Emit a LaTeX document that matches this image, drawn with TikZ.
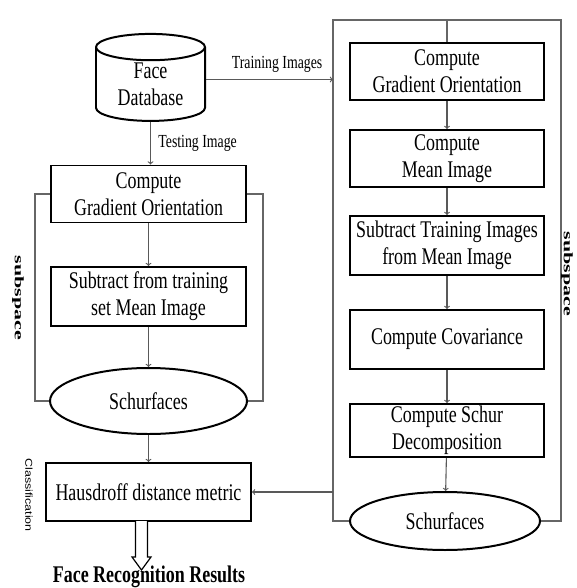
\documentclass[tikz,border=0pt]{standalone}
\usepackage{fontspec}
\setmainfont{Liberation Serif}[FakeStretch=0.75]
\newfontfamily\plainserif{Liberation Serif}
\newfontfamily\plainsans{Liberation Sans}
\usetikzlibrary{shapes.geometric, arrows, positioning}

\tikzset{
  stepbox/.style={draw, line width=2pt, align=center, inner sep=0pt,
    minimum width=195bp, minimum height=57bp, font=\fontsize{24}{27}\selectfont},
  ovalbox/.style={draw, ellipse, line width=2pt, inner sep=0pt,
    font=\fontsize{24}{27}\selectfont},
  conn/.style={draw=black!65, line width=1.1pt, ->, >=to},
  frameline/.style={draw=black!60, line width=1.3pt},
  lbl/.style={font=\fontsize{18.5}{18.5}\selectfont},
}

\begin{document}
\begin{tikzpicture}[x=1bp, y=-1bp]
    \useasboundingbox (0,0) rectangle (577,588);

    % database and testing branch
    \node[draw, cylinder, shape border rotate=90, aspect=0.4, line width=2pt,
          minimum width=109bp, minimum height=87bp, inner sep=0pt, align=center,
          font=\fontsize{24}{27}\selectfont] (db) at (150.5,84.5) {Face\\Database};

    \node[stepbox] (lgrad) at (148.5,194) {Compute\\Gradient Orientation};
    \node[stepbox, minimum height=59bp] (lsub) at (148.5,296.5) {Subtract from training\\set Mean Image};
    \node[ovalbox, minimum width=197bp, minimum height=66bp] (lschur) at (148.5,401) {Schurfaces};
    \node[stepbox, minimum width=205bp, minimum height=58bp] (haus) at (148.5,492) {Hausdroff distance metric};

    % training branch
    \node[stepbox, minimum width=194bp] (rgrad) at (447,71.5) {Compute\\Gradient Orientation};
    \node[stepbox, minimum width=194bp] (rmean) at (447,158.5) {Compute\\Mean Image};
    \node[stepbox, minimum width=194bp, minimum height=59bp] (rsub) at (447,245.5) {Subtract Training Images\\from Mean Image};
    \node[stepbox, minimum width=194bp, minimum height=59bp] (rcov) at (447,339.5) {Compute Covariance};
    \node[stepbox, minimum width=194bp, minimum height=53bp] (rschur) at (447,430.5) {Compute Schur\\Decomposition};
    \node[ovalbox, minimum width=190bp, minimum height=58bp] (rfaces) at (445,521) {Schurfaces};

    \coordinate (trainin) at (333,79.5);
    \coordinate (fromright) at (333,492);

    % subspace frames
    \draw[frameline] (lgrad.west) -- (35,194) -- (35,401) -- (lschur.west);
    \draw[frameline] (lgrad.east) -- (263,194) -- (263,401) -- (lschur.east);
    \draw[frameline] (rfaces.west) -| (333,20) -| (rgrad.north);
    \draw[frameline] (rfaces.east) -| (561,20) -- (447,20);

    % connectors
    \draw[conn] (db.east |- trainin) -- (trainin) node[lbl, above=3bp, pos=0.56] {Training Images};
    \draw[conn] (db.south) -- (db.south |- lgrad.north) node[lbl, right=4bp, midway] {Testing Image};
    \draw[conn] (lgrad) -- (lsub);
    \draw[conn] (lsub) -- (lschur);
    \draw[conn] (lschur) -- (haus);
    \draw[conn] (rgrad) -- (rmean);
    \draw[conn] (rmean) -- (rsub);
    \draw[conn] (rsub) -- (rcov);
    \draw[conn] (rcov) -- (rschur);
    \draw[conn] (rschur) -- (rfaces);
    \draw[conn] (fromright) -- (haus.east);

    % result arrow
    \draw[line width=1.2pt, fill=white] (135.5,521) -- (135.5,557) -- (132,557) -- (141.5,570)
        -- (151,557) -- (147.5,557) -- (147.5,521);
    \node[font=\fontsize{24}{24}\selectfont\bfseries] (result) at (149,577) {Face Recognition Results};

    % side labels
    \node[rotate=-90] (subl) at (18,298) {\plainserif\bfseries\fontsize{13}{13}\selectfont\scalebox{1.7}[1]{subspace}};
    \node[rotate=-90] (subr) at (567,274) {\plainserif\bfseries\fontsize{13}{13}\selectfont\scalebox{1.7}[1]{subspace}};
    \node[rotate=-90] (classif) at (29,495) {\plainsans\fontsize{10}{10}\selectfont\scalebox{1.25}[1]{Classification}};
\end{tikzpicture}
\end{document}
